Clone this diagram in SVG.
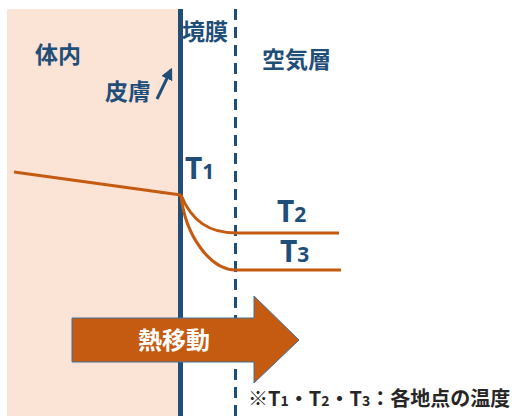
<svg xmlns="http://www.w3.org/2000/svg" width="512" height="416" viewBox="0 0 512 416">
<style>
.lbl{font-family:"Noto Sans CJK JP","Noto Sans",sans-serif;fill:#1F4E79;font-weight:bold;font-size:23px}
.t{font-family:"Noto Sans","Noto Sans CJK JP",sans-serif;fill:#1F4E79;font-weight:bold;font-size:30px}
.sub{font-size:21px}
.temp{fill:none;stroke:#C55A11;stroke-width:3}
</style>
<defs>
<marker id="ah" viewBox="0 0 10 10" refX="8" refY="5" markerWidth="4" markerHeight="4" orient="auto"><path d="M0,0 L10,5 L0,10 z" fill="#1F4E79"/></marker>
</defs>
<rect width="512" height="416" fill="#fff"/>
<g id="body"><rect x="7" y="9" width="172" height="407" fill="#FBE3D6"/>
<text class="lbl" x="35" y="63">体内</text></g>
<g id="skin"><text class="lbl" x="105" y="100">皮膚</text></g>
<g id="film"><text class="lbl" x="182" y="40">境膜</text></g>
<g id="air"><text class="lbl" x="262" y="68">空気層</text></g>
<g id="connectors">
<line x1="180.5" y1="9" x2="180.5" y2="416" stroke="#1F4E79" stroke-width="5"/>
<line x1="235.5" y1="9" x2="235.5" y2="416" stroke="#1F4E79" stroke-width="3" stroke-dasharray="11,7"/>
<line x1="157" y1="99" x2="171" y2="70" stroke="#1F4E79" stroke-width="3" marker-end="url(#ah)"/>
<path class="temp" d="M14,172 L181,195"/>
<path class="temp" d="M181,195 C192,222 210,233 236,233 L339,233"/>
<path class="temp" d="M181,195 C185,235 210,270 236,270 L341,270"/>
</g>
<g id="T1"><text class="t" x="185" y="179">T<tspan class="sub">1</tspan></text></g>
<g id="T2"><text class="t" x="277" y="222">T<tspan class="sub">2</tspan></text></g>
<g id="T3"><text class="t" x="280" y="262">T<tspan class="sub">3</tspan></text></g>
<g id="heat">
<path d="M72,318 L254,318 L254,296 L299,340 L254,383 L254,362 L72,362 Z" fill="#C55A11" stroke="#41719C" stroke-width="1"/>
<text x="174" y="349" font-size="24" text-anchor="middle" fill="#fff" font-family="Noto Sans CJK JP,sans-serif" font-weight="bold">熱移動</text>
</g>
<g id="note"><text x="248" y="406" font-size="20" fill="#262626" font-family="Noto Sans CJK JP,sans-serif" font-weight="bold">※T<tspan font-size="14">1</tspan>・T<tspan font-size="14">2</tspan>・T<tspan font-size="14">3</tspan>：各地点の温度</text></g>
</svg>
